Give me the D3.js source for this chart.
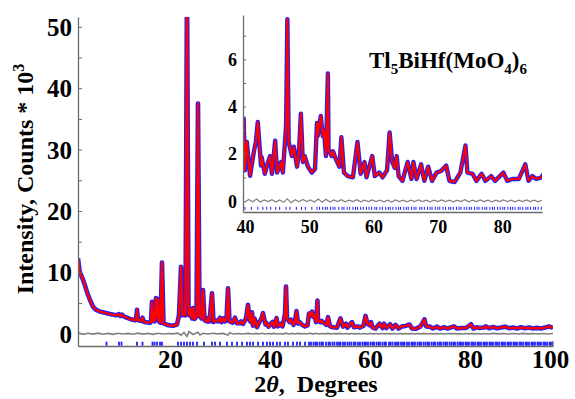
<!DOCTYPE html>
<html>
<head>
<meta charset="utf-8">
<script src="https://cdn.jsdelivr.net/npm/d3@7/dist/d3.min.js"></script>
<style>
  body { margin: 0; background: #fff; }
  text { font-family: "Liberation Serif", "Times New Roman", serif; font-weight: bold; fill: #000; }
</style>
</head>
<body>
<svg id="plotSvg" width="575" height="399"></svg>
<script>
var pattern = [
    [5.0, 12.3], [5.3, 10.2], [5.7, 9.4], [6.0, 8.8], [6.5, 7.6], [6.8, 6.8], [7.4, 5.5], [8.0, 4.4],
    [8.6, 3.9], [9.4, 3.6], [10.4, 3.4], [11.4, 3.2], [12.6, 3.0], [13.2, 3.2], [13.5, 2.9], [13.8, 3.1],
    [14.2, 2.8], [15.4, 2.4], [16.4, 2.2], [16.6, 2.3], [16.8, 3.9], [17.0, 2.2], [17.6, 2.1], [17.9, 2.6],
    [18.2, 1.9], [19.4, 1.8], [19.6, 2.0], [19.8, 5.2], [20.0, 2.1], [20.3, 2.0], [20.6, 5.8], [20.8, 2.6],
    [21.0, 5.6], [21.2, 2.0], [21.5, 1.8], [21.8, 11.6], [22.1, 1.7], [23.0, 1.4], [24.0, 1.3], [24.8, 1.5],
    [25.2, 3.0], [25.6, 10.9], [25.9, 3.0], [26.2, 3.6], [26.5, 3.0], [26.8, 58], [27.1, 4.0], [27.3, 3.0],
    [27.5, 4.0], [27.8, 2.5], [28.0, 4.2], [28.3, 2.4], [28.7, 2.8], [29.0, 37.5], [29.3, 3.0], [29.7, 2.5],
    [30.0, 7.1], [30.3, 2.2], [30.8, 2.0], [31.0, 2.6], [31.3, 2.0], [31.8, 6.6], [32.1, 1.9], [32.5, 2.2],
    [33.0, 2.0], [33.4, 2.6], [33.7, 1.9], [34.1, 2.5], [34.4, 2.0], [34.7, 2.4], [35.0, 7.4], [35.3, 2.0],
    [35.9, 1.8], [36.4, 2.6], [36.8, 1.7], [37.3, 1.7], [37.6, 2.0], [38.0, 1.6], [38.6, 2.5], [39.0, 4.7],
    [39.3, 2.2], [39.6, 1.9], [39.8, 3.5], [40.0, 1.3], [40.3, 2.5], [40.8, 1.06], [41.4, 2.1], [41.7, 2.5],
    [42.0, 3.35], [42.5, 1.5], [42.6, 1.85], [43.1, 1.15], [43.6, 1.65], [43.9, 1.9], [44.2, 1.15], [44.7, 2.55],
    [45.0, 1.2], [45.6, 1.65], [45.9, 1.2], [46.4, 3.2], [46.6, 7.7], [46.8, 2.5], [47.3, 1.9], [47.6, 2.3],
    [48.1, 1.45], [48.4, 2.05], [48.7, 3.7], [49.0, 1.65], [49.3, 1.9], [49.8, 1.45], [50.4, 1.2], [50.9, 1.35],
    [51.2, 3.3], [51.3, 2.75], [51.8, 3.6], [52.1, 2.75], [52.3, 3.0], [52.6, 1.9], [52.9, 5.4], [53.0, 2.2],
    [53.5, 1.9], [53.7, 2.1], [54.1, 1.8], [54.7, 1.45], [55.0, 2.7], [55.4, 1.2], [56.0, 1.05], [56.8, 1.0],
    [57.5, 2.5], [58.0, 1.15], [58.6, 1.65], [58.9, 1.0], [59.8, 1.9], [60.2, 1.05], [60.9, 1.2], [61.4, 1.0],
    [62.1, 1.3], [62.5, 2.9], [62.9, 1.65], [63.3, 1.4], [63.6, 1.9], [63.9, 1.05], [64.5, 0.85], [65.3, 1.65],
    [65.9, 0.93], [66.2, 1.65], [66.7, 0.93], [67.4, 1.55], [67.9, 0.85], [68.5, 1.45], [69.1, 0.85], [69.8, 1.2],
    [70.5, 1.27], [71.3, 1.5], [71.8, 0.85], [72.6, 0.8], [73.5, 1.2], [74.3, 2.35], [74.6, 1.2], [75.4, 1.15],
    [76.0, 0.85], [76.8, 1.15], [77.4, 0.85], [78.3, 1.05], [78.9, 0.85], [80.2, 1.2], [80.8, 0.85], [81.6, 0.93],
    [82.6, 0.93], [83.6, 1.55], [84.1, 0.85], [84.7, 1.05], [85.3, 0.93], [86.1, 1.0], [86.6, 1.2], [87.2, 0.9],
    [88.0, 1.1], [88.8, 0.9], [89.6, 1.0], [90.4, 1.15], [91.2, 0.9], [92.0, 1.0], [92.8, 0.85], [93.6, 1.05],
    [94.4, 0.9], [95.2, 1.0], [96.0, 0.85], [96.8, 0.95], [97.6, 0.85], [98.4, 1.0], [99.2, 1.2], [100.0, 0.95]
];

// difference curve (obs - calc)
var difference = [
    [5, 0.15], [6, -0.1], [7, 0.08], [8, -0.06], [9, 0.1], [10, -0.08], [11, 0.05], [12, -0.1], [13, 0.08],
    [14, -0.05], [15, 0.06], [16, -0.08], [17, 0.1], [18, -0.06], [19, 0.05], [20, -0.1], [21, 0.08], [22, -0.05],
    [23, 0.03], [24, -0.03], [25, 0.1], [25.6, -0.25], [26.2, 0.2], [26.8, -0.45], [27.2, 0.35], [28, -0.12],
    [29, 0.25], [29.4, -0.2], [30, 0.08], [31, -0.05], [32, 0.08], [33, -0.03], [34, 0.05], [35, -0.2],
    [35.3, 0.15], [36, -0.05], [37, 0.03], [38, -0.05], [39, 0.05], [40, -0.05], [40.6, 0.06], [41.2, -0.04],
    [41.8, 0.08], [42.4, -0.05], [43, 0.04], [43.6, -0.03], [44.2, 0.05], [44.8, -0.05], [45.4, 0.04],
    [46, -0.06], [46.6, 0.09], [47.2, -0.08], [47.8, 0.05], [48.4, -0.04], [49, 0.06], [49.6, -0.03],
    [50.2, 0.04], [50.8, -0.05], [51.4, 0.08], [52, -0.06], [52.6, 0.07], [53.2, -0.05], [53.8, 0.04],
    [54.4, -0.03], [55, 0.05], [55.6, -0.04], [56.2, 0.03], [56.8, -0.03], [57.4, 0.05], [58, -0.04],
    [58.6, 0.03], [59.2, -0.03], [59.8, 0.04], [60.4, -0.03], [61, 0.03], [61.6, -0.04], [62.2, 0.03],
    [62.8, -0.05], [63.4, 0.04], [64, -0.03], [64.6, 0.03], [65.2, -0.04], [65.8, 0.03], [66.4, -0.03],
    [67, 0.04], [67.6, -0.03], [68.2, 0.03], [68.8, -0.04], [69.4, 0.03], [70, -0.03], [70.6, 0.04],
    [71.2, -0.03], [71.8, 0.03], [72.4, -0.04], [73, 0.03], [73.6, -0.03], [74.2, 0.05], [74.8, -0.04],
    [75.4, 0.03], [76, -0.03], [76.6, 0.04], [77.2, -0.03], [77.8, 0.03], [78.4, -0.04], [79, 0.03],
    [79.6, -0.03], [80.2, 0.04], [80.8, -0.03], [81.4, 0.03], [82, -0.04], [82.6, 0.03], [83.2, -0.03],
    [83.8, 0.04], [84.4, -0.03], [85, 0.03], [85.6, -0.04], [86.2, 0.03], [87, -0.04], [88, 0.05],
    [89, -0.03], [90, 0.04], [91, -0.05], [92, 0.03], [93, -0.04], [94, 0.05], [95, -0.03], [96, 0.04],
    [97, -0.05], [98, 0.03], [99, -0.04], [100, 0.03]
];

// Bragg reflection positions (blue tick marks)
var reflections = [
    10.7, 13.2, 13.7, 16.8, 17.9, 19.9, 20.3, 20.8, 21.4, 21.8, 25.0, 25.6, 26.2, 26.8, 27.4, 28.0, 28.8,
    30.2, 31.8, 32.4, 33.4, 34.8, 35.8, 36.8, 37.8, 38.8, 39.4, 40.0, 41.0, 42.0, 42.8, 43.4, 44.0, 44.8,
    45.4, 46.4, 47.0, 48.0, 48.8, 49.4, 50.4, 51.2, 51.6, 52.1, 52.5, 52.8, 53.3, 53.7, 54.0, 54.6, 55.1,
    55.4, 55.9, 56.3, 56.8, 57.2, 57.5, 58.0, 58.4, 58.9, 59.3, 59.7, 60.2, 60.5, 61.0, 61.4, 61.9, 62.3,
    62.6, 63.0, 63.5, 63.9, 64.2, 64.7, 65.1, 65.4, 65.9, 66.3, 66.6, 67.2, 67.5, 67.9, 68.4, 68.8, 69.1,
    69.6, 70.0, 70.3, 70.8, 71.2, 71.7, 72.0, 72.4, 72.9, 73.3, 73.6, 74.1, 74.5, 74.9, 75.2, 75.7, 76.1,
    76.4, 76.9, 77.3, 77.6, 78.1, 78.5, 78.8, 79.3, 79.7, 80.1, 80.4, 80.9, 81.3, 81.6, 82.0, 82.5, 82.8,
    83.2, 83.7, 84.0, 84.4, 84.9, 85.2, 85.6, 86.1, 86.4, 86.8, 87.3, 87.6, 88.0, 88.5, 88.8, 89.2, 89.7,
    90.0, 90.4, 90.9, 91.2, 91.6, 92.1, 92.4, 92.8, 93.3, 93.6, 94.0, 94.5, 94.8, 95.2, 95.7, 96.0, 96.4,
    96.9, 97.2, 97.6, 98.1, 98.4, 98.8, 99.3, 99.6, 100.0
];

var mainXTicks = [20, 40, 60, 80, 100];
var mainYTicks = [0, 10, 20, 30, 40, 50];
var insetXTicks = [40, 50, 60, 70, 80];
var insetYTicks = [0, 2, 4, 6];

var blue = "#1f1fff", red = "#ff0000", grey = "#808080", axisGrey = "#6a6a6a";

function drawPanel(svg, x, y, opt) {
    const id = opt.id;
    svg.append("clipPath").attr("id", id)
        .append("rect")
        .attr("x", x.range()[0]).attr("y", y.range()[1])
        .attr("width", x.range()[1] - x.range()[0])
        .attr("height", y.range()[0] - y.range()[1]);

    const g = svg.append("g").attr("clip-path", `url(#${id})`);
    const data = pattern.filter(d => d[0] >= x.domain()[0] - 1 && d[0] <= x.domain()[1] + 1);

    const line = d3.line().x(d => x(d[0])).y(d => y(d[1]));

    // difference curve
    g.append("path")
        .datum(difference.filter(d => d[0] >= x.domain()[0] - 1 && d[0] <= x.domain()[1] + 1))
        .attr("d", line)
        .attr("fill", "none")
        .attr("stroke", grey)
        .attr("stroke-width", opt.diffWidth);

    // reflection ticks
    g.append("g")
        .selectAll("line")
        .data(reflections.filter(d => d >= x.domain()[0] && d <= x.domain()[1]))
        .join("line")
        .attr("x1", d => x(d)).attr("x2", d => x(d))
        .attr("y1", y(opt.tickTop)).attr("y2", y(opt.tickBottom))
        .attr("stroke", blue)
        .attr("stroke-width", opt.tickWidth);

    // observed (blue)
    g.append("path")
        .datum(data)
        .attr("d", line)
        .attr("fill", "none")
        .attr("stroke", blue)
        .attr("stroke-width", opt.obsWidth)
        .attr("stroke-linejoin", "round");

    // calculated (red)
    g.append("path")
        .datum(data)
        .attr("d", line)
        .attr("fill", "none")
        .attr("stroke", red)
        .attr("stroke-width", opt.calcWidth)
        .attr("stroke-linejoin", "round");

    // inward minor ticks on y axis
    svg.append("g")
        .attr("transform", `translate(${x.range()[0]},0)`)
        .call(d3.axisRight(y).tickValues(opt.minorY).tickSize(opt.minorSize).tickFormat(""))
        .call(a => a.select(".domain").remove())
        .selectAll("line").attr("stroke", axisGrey);

    // y axis
    const ya = svg.append("g")
        .attr("transform", `translate(${x.range()[0]},0)`)
        .call(d3.axisLeft(y).tickValues(opt.yTicks).tickSize(0).tickSizeOuter(0).tickPadding(6));
    ya.select(".domain").attr("stroke", axisGrey).attr("stroke-width", 1.3);
    ya.selectAll("text").style("font-size", opt.fontSize + "px").attr("dy", "0.34em");

    // x axis
    const xa = svg.append("g")
        .attr("transform", `translate(0,${y.range()[0]})`)
        .call(d3.axisBottom(x).tickValues(opt.xTicks).tickSize(0).tickSizeOuter(0).tickPadding(opt.xPad));
    xa.select(".domain").attr("stroke", axisGrey).attr("stroke-width", 1.3);
    xa.selectAll("text").style("font-size", opt.fontSize + "px");
    return xa;
}

function plotGraph() {
    const svg = d3.select("#plotSvg");

    // main plot
    const x = d3.scaleLinear().domain([5, 100]).range([78, 553]);
    const y = d3.scaleLinear().domain([-2, 51.6]).range([346, 17]);
    const xa = drawPanel(svg, x, y, {
        id: "clipMain", xTicks: mainXTicks, yTicks: mainYTicks,
        minorY: [5, 10, 15, 20, 25, 30, 35, 40, 45, 50], minorSize: 4,
        fontSize: 25, xPad: 4, obsWidth: 4.6, calcWidth: 2.4, diffWidth: 1.6,
        tickTop: -1.3, tickBottom: -1.95, tickWidth: 1.8
    });
    // labels in the original sit a little right of their ticks, except the last
    xa.selectAll("text").attr("dx", d => d === 100 ? -3 : 17);

    // right end tick of main x axis
    svg.append("line")
        .attr("x1", x(100)).attr("x2", x(100))
        .attr("y1", y(-2)).attr("y2", y(-1.2))
        .attr("stroke", axisGrey).attr("stroke-width", 1.3);

    // inset
    const xi = d3.scaleLinear().domain([39.7, 86.2]).range([243, 542]);
    const yi = d3.scaleLinear().domain([-0.47, 7.88]).range([212, 15]);
    drawPanel(svg, xi, yi, {
        id: "clipInset", xTicks: insetXTicks, yTicks: insetYTicks,
        minorY: [1, 2, 3, 4, 5, 6, 7], minorSize: 3,
        fontSize: 18, xPad: 8, obsWidth: 4.4, calcWidth: 2.2, diffWidth: 1.2,
        tickTop: -0.25, tickBottom: -0.38, tickWidth: 1
    });

    // compound label
    const title = svg.append("text").attr("x", 369).attr("y", 68).style("font-size", "23px");
    title.append("tspan").text("Tl");
    title.append("tspan").text("5").style("font-size", "15px").attr("dy", 6);
    title.append("tspan").text("BiHf(MoO").attr("dy", -6);
    title.append("tspan").text("4").style("font-size", "15px").attr("dy", 6);
    title.append("tspan").text(")").attr("dy", -6);
    title.append("tspan").text("6").style("font-size", "15px").attr("dy", 6);

    // y axis title
    const yt = svg.append("text")
        .attr("transform", "translate(33,179) rotate(-90)")
        .attr("text-anchor", "middle")
        .style("font-size", "24px");
    yt.append("tspan").text("Intensity, Counts * 10");
    yt.append("tspan").text("3").style("font-size", "16px").attr("dy", -9);

    // x axis title
    const xt = svg.append("text")
        .attr("x", 316).attr("y", 392)
        .attr("text-anchor", "middle")
        .style("font-size", "24px");
    xt.append("tspan").text("2");
    xt.append("tspan").text("\u03b8").style("font-style", "italic");
    xt.append("tspan").text(",\u00a0 Degrees");
}

plotGraph();
</script>
</body>
</html>
